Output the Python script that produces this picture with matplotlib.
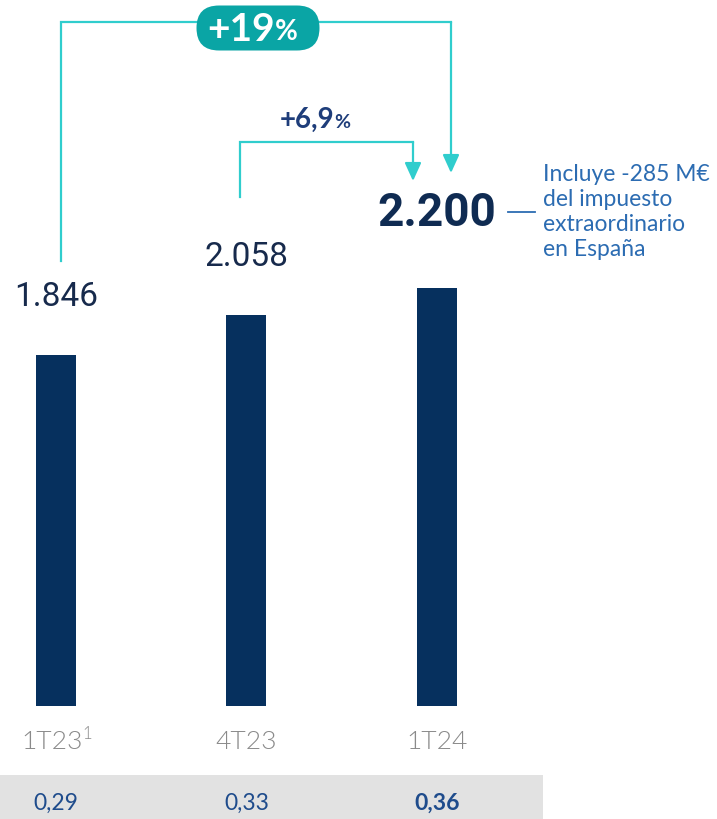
import matplotlib
matplotlib.use('Agg')
import matplotlib.pyplot as plt
from matplotlib.patches import Rectangle, FancyBboxPatch

# beneficio atribuido (M€) y BPA por trimestre
periods = ['1T23', '4T23', '1T24']
profit = [1846, 2058, 2200]
profit_labels = ['1.846', '2.058', '2.200']
eps_labels = ['0,29', '0,33', '0,36']
growth_year = '+19'
growth_quarter = '+6,9'
note = 'Incluye -285 M€\ndel impuesto\nextraordinario\nen España'

NAVY = '#06305e'
TEXT_NAVY = '#172a4c'
TEAL_LINE = '#30cdcd'
TEAL_BADGE = '#0aa5a5'
NOTE_BLUE = '#2c6cb2'
EPS_BLUE = '#1f4c8c'
GREY = '#8a8a8a'

# pixel scale of the drawing
X_PX = 190.5   # px between bars
Y_PX = 0.19    # px per M€


def dx(px):
    return px / X_PX


def dy(px):
    return px / Y_PX


fig = plt.figure(figsize=(7.17, 8.19), dpi=100)
ax = fig.add_axes([0, 0, 1, 1])
ax.set_xlim(-dx(56), dx(717 - 56))
ax.set_ylim(-dy(113), dy(819 - 113))
ax.axis('off')

xs = list(range(len(periods)))
ax.bar(xs, profit, width=dx(40), color=NAVY, zorder=2)

# value labels above the bars
for i, (v, lab) in enumerate(zip(profit, profit_labels)):
    if i == 2:
        ax.text(i, v + dy(75), lab, ha='center', va='center', fontsize=33,
                fontweight='bold', family='Roboto', color='#0f2b52')
    else:
        ax.text(i, v + dy(58), lab, ha='center', va='center', fontsize=24,
                family='Roboto', color=TEXT_NAVY)

# category labels
for i, p in enumerate(periods):
    if i == 0:
        ax.annotate(p, (i, -dy(36)), xytext=(-3, 0), textcoords='offset points',
                    ha='center', va='center', fontsize=19, family='Lato',
                    fontweight=300, color=GREY)
        ax.annotate('1', (i, -dy(36)), xytext=(19, 6), textcoords='offset points',
                    ha='left', va='center', fontsize=12, family='Lato',
                    fontweight=300, color=GREY)
    else:
        ax.text(i, -dy(36), p, ha='center', va='center', fontsize=19,
                family='Lato', fontweight=300, color=GREY)

# EPS band at the bottom
ax.add_patch(Rectangle((0, 0), 543 / 717, 44 / 819, transform=ax.transAxes,
                       facecolor='#e2e2e2', edgecolor='none', zorder=0))
for i, lab in enumerate(eps_labels):
    ax.text(i, -dy(97), lab, ha='center', va='center', fontsize=16.5,
            family='Lato', color=EPS_BLUE,
            fontweight='bold' if i == 2 else 'normal')

# growth brackets
arrow = dict(arrowstyle='-|>,head_length=0.55,head_width=0.25', color=TEAL_LINE,
             lw=1.6, mutation_scale=20, shrinkA=0, shrinkB=0)

# year on year
ox0, ox1 = 0 + dx(5), 2 + dx(14)
otop = dy(684)
ax.plot([ox0, ox0, ox1], [profit[0] + dy(94), otop, otop],
        color=TEAL_LINE, lw=1.6, solid_joinstyle='miter', zorder=1)
ax.annotate('', xy=(ox1, profit[2] + dy(115)), xytext=(ox1, otop),
            arrowprops=arrow)

# quarter on quarter
ix0, ix1 = 1 - dx(6), 2 - dx(24)
itop = dy(564)
ax.plot([ix0, ix0, ix1], [profit[1] + dy(118), itop, itop],
        color=TEAL_LINE, lw=1.6, solid_joinstyle='miter', zorder=1)
ax.annotate('', xy=(ix1, profit[2] + dy(107)), xytext=(ix1, itop),
            arrowprops=arrow)

# badge with yearly growth
bx, by = dx(258 - 56), dy(678)
bw, bh = dx(123), dy(45)
ax.add_patch(FancyBboxPatch((bx - bw / 2, by - bh / 2), bw, bh,
                            boxstyle='round,pad=0,rounding_size=%f' % (bh / 2 * Y_PX / X_PX),
                            mutation_aspect=X_PX / Y_PX,
                            facecolor=TEAL_BADGE, edgecolor='none', zorder=3))
ax.annotate(growth_year, (bx, by), xytext=(12, -1), textcoords='offset points',
            ha='right', va='center', fontsize=28, fontweight='bold',
            family='Lato', color='white', zorder=4)
ax.annotate('%', (bx, by), xytext=(12, -3), textcoords='offset points',
            ha='left', va='center', fontsize=20, fontweight='bold',
            family='Lato', color='white', zorder=4)

gx, gy = dx(320 - 56), dy(586)
ax.annotate(growth_quarter, (gx, gy), xytext=(10, 0), textcoords='offset points',
            ha='right', va='center', fontsize=20, fontweight='bold',
            family='Lato', color='#1e3d7a')
ax.annotate('%', (gx, gy), xytext=(10, -2), textcoords='offset points',
            ha='left', va='center', fontsize=14, fontweight='bold',
            family='Lato', color='#1e3d7a')

# note on the extraordinary tax
ny = profit[2] + dy(76)
ax.plot([2 + dx(71), 2 + dx(98)], [ny, ny], color=NOTE_BLUE, lw=1.3)
ax.text(2 + dx(106), profit[2] + dy(76), note, ha='left', va='center',
        fontsize=16.5, family='Lato', color=NOTE_BLUE, linespacing=1.22)

fig.savefig('out.png', dpi=100)
